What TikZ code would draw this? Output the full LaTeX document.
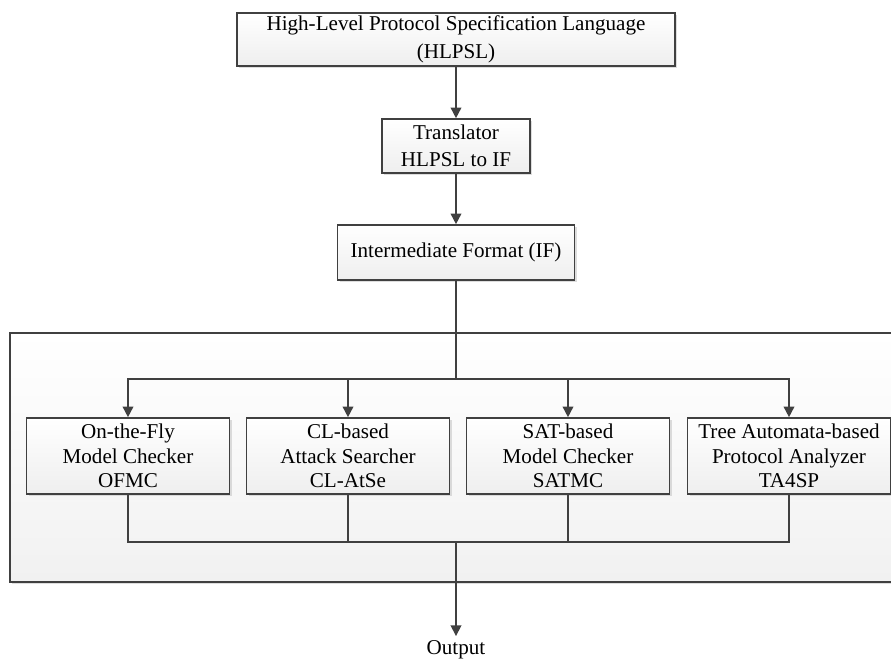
\documentclass[tikz,border=0pt]{standalone}
\usepackage{fontspec}
\setmainfont{Liberation Serif}
\usetikzlibrary{arrows.meta,shadows,positioning}
\definecolor{linegray}{HTML}{404040}

\begin{document}
\begin{tikzpicture}[x=0.03cm,y=-0.03cm,line width=1.4pt,
  box/.style={draw=linegray,top color=white,bottom color=gray!13,align=center,
    font=\fontsize{18}{21}\selectfont,inner sep=2pt,
    drop shadow={shadow xshift=0.6mm,shadow yshift=-0.6mm,fill=gray!45,opacity=0.6}},
  wire/.style={draw=linegray},
  flow/.style={draw=linegray,-{Triangle[length=3.2mm,width=3.2mm]}}]
  \useasboundingbox (0,0) rectangle (891,659);
  % ===================== marco de los analizadores =====================
  \path[draw=linegray,top color=white,bottom color=gray!11,
    drop shadow={shadow xshift=0.6mm,shadow yshift=-0.6mm,fill=gray!45,opacity=0.6}]
    (10,333) rectangle (900,582);
  % ===================== cadena superior =====================
  \node[box,font=\fontsize{18}{24}\selectfont,minimum width=438*0.03cm,minimum height=53*0.03cm]
    (hlpsl) at (456,39.5) {High-Level Protocol Specification Language\\(HLPSL)};
  \node[box,font=\fontsize{18}{23}\selectfont,minimum width=148*0.03cm,minimum height=54*0.03cm]
    (trans) at (456,146) {Translator\\HLPSL to IF};
  \node[box,minimum width=237*0.03cm,minimum height=55*0.03cm] (inter) at (456,252.5)
    {Intermediate Format (IF)};
  % ===================== cuatro back-ends =====================
  \node[box,minimum width=203*0.03cm,minimum height=76*0.03cm] (ofmc) at (128,456)
    {On-the-Fly\\Model Checker\\OFMC};
  \node[box,minimum width=203*0.03cm,minimum height=76*0.03cm] (clatse) at (348,456)
    {CL-based\\Attack Searcher\\CL-AtSe};
  \node[box,minimum width=203*0.03cm,minimum height=76*0.03cm] (satmc) at (568,456)
    {SAT-based\\Model Checker\\SATMC};
  \node[box,minimum width=203*0.03cm,minimum height=76*0.03cm] (tasp) at (789,456)
    {Tree Automata-based\\Protocol Analyzer\\TA4SP};
  \node[font=\fontsize{18}{21}\selectfont] (output) at (456,650){Output};
  % ---------- conexiones ----------
  \coordinate (split) at (456,379);
  \coordinate (join) at (456,542);
  \draw[flow] (hlpsl) -- (trans);
  \draw[flow] (trans) -- (inter);
  \draw[wire] (inter) -- (split);
  \foreach \n in {ofmc,clatse,satmc,tasp}
    \draw[flow] (split) -| (\n.north);
  \foreach \n in {ofmc,clatse,satmc,tasp}
    \draw[wire] (\n.south) |- (join);
  \draw[flow] (join) -- (output);
\end{tikzpicture}
\end{document}
